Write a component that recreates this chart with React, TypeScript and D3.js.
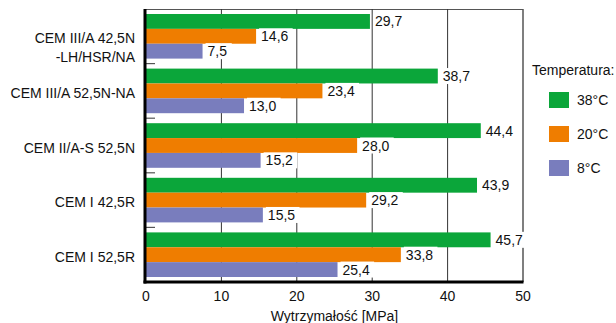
import React from "react";
import * as d3 from "d3";

const categories = [
  ["CEM III/A 42,5N", "-LH/HSR/NA"],
  ["CEM III/A 52,5N-NA"],
  ["CEM II/A-S 52,5N"],
  ["CEM I 42,5R"],
  ["CEM I 52,5R"],
];
const seriesNames = ["38°C", "20°C", "8°C"];
const seriesColors = ["#0ba63a", "#ef7d00", "#797dbd"];
const values38 = [29.7, 38.7, 44.4, 43.9, 45.7];
const values20 = [14.6, 23.4, 28.0, 29.2, 33.8];
const values8 = [7.5, 13.0, 15.2, 15.5, 25.4];
const seriesValues = [values38, values20, values8];
const xTicks = [0, 10, 20, 30, 40, 50];
const xTitle = "Wytrzymałość [MPa]";
const legendTitle = "Temperatura:";

const W = 616;
const H = 323;
const FONT = "'Liberation Sans', Arial, Helvetica, sans-serif";

export default function App() {
  const left = 146, right = 523, top = 9, bottom = 282;
  const x = d3.scaleLinear().domain([0, 50]).range([left, right]);
  const y = d3
    .scaleBand<number>()
    .domain(categories.map((_, i) => i))
    .range([top, bottom])
    .padding(0);
  const bw = y.bandwidth();
  const inner = d3
    .scaleBand<number>()
    .domain(seriesNames.map((_, i) => i))
    .range([5, bw - 5])
    .padding(0);
  const bh = inner.bandwidth();
  const fmt = (v: number) => v.toFixed(1).replace(".", ",");

  return (
    <svg
      width={W}
      height={H}
      style={{ position: "absolute", left: 0, top: 0 }}
      fontFamily={FONT}
    >
      <rect x={0} y={0} width={W} height={H} fill="#fff" />
      <line x1={left} x2={right} y1={top + 0.5} y2={top + 0.5} stroke="#555" strokeWidth={1} />
      {xTicks.slice(1).map((t) => (
        <line
          key={t}
          x1={x(t)}
          x2={x(t)}
          y1={top}
          y2={bottom}
          stroke={t === 50 ? "#555" : "#333"}
          strokeWidth={t === 50 ? 1.5 : 1}
        />
      ))}
      {categories.map((_, ci) =>
        seriesValues.map((vals, si) => (
          <rect
            key={`${ci}-${si}`}
            x={x(0)}
            y={(y(ci) as number) + (inner(si) as number)}
            width={x(vals[ci]) - x(0)}
            height={bh}
            fill={seriesColors[si]}
          />
        ))
      )}
      {categories.map((_, ci) =>
        seriesValues.map((vals, si) => {
          const cy = (y(ci) as number) + (inner(si) as number) + bh / 2;
          const lx = x(vals[ci]) + 5;
          const txt = fmt(vals[ci]);
          const tw = txt.length * 7.4;
          return (
            <g key={`l-${ci}-${si}`}>
              <rect x={lx - 2} y={cy - 8} width={tw + 4} height={16} fill="#fff" />
              <text x={lx} y={cy} dy="0.36em" fontSize={14} fill="#111">
                {txt}
              </text>
            </g>
          );
        })
      )}
      {categories.slice(1).map((_, i) => (
        <line
          key={`tk${i}`}
          x1={left}
          x2={left + 9}
          y1={y(i + 1) as number}
          y2={y(i + 1) as number}
          stroke="#555"
          strokeWidth={1.2}
        />
      ))}
      <line x1={left - 1} x2={left - 1} y1={top} y2={bottom + 1.5} stroke="#000" strokeWidth={3} />
      <line x1={left - 2.5} x2={right + 0.5} y1={bottom} y2={bottom} stroke="#000" strokeWidth={3} />
      {xTicks.map((t) => (
        <text key={`xt${t}`} x={x(t)} y={296} dy="0.36em" textAnchor="middle" fontSize={14} fill="#111">
          {t}
        </text>
      ))}
      <text x={x(25)} y={316} dy="0.36em" textAnchor="middle" fontSize={14} fill="#111">
        {xTitle}
      </text>
      {categories.map((lines, ci) => {
        const cy = (y(ci) as number) + bw / 2 + 2;
        const lh = 18.5;
        return lines.map((ln, li) => (
          <text
            key={`c${ci}-${li}`}
            x={135}
            y={cy + li * lh}
            dy="0.36em"
            textAnchor="end"
            fontSize={14}
            fill="#111"
          >
            {ln}
          </text>
        ));
      })}
      <text x={532} y={70} dy="0.36em" fontSize={14} fill="#111">
        {legendTitle}
      </text>
      {seriesNames.map((n, i) => (
        <g key={`lg${i}`}>
          <rect x={549} y={92 + i * 34} width={20} height={16} fill={seriesColors[i]} />
          <text x={577} y={100 + i * 34} dy="0.36em" fontSize={14} fill="#111">
            {n}
          </text>
        </g>
      ))}
    </svg>
  );
}
